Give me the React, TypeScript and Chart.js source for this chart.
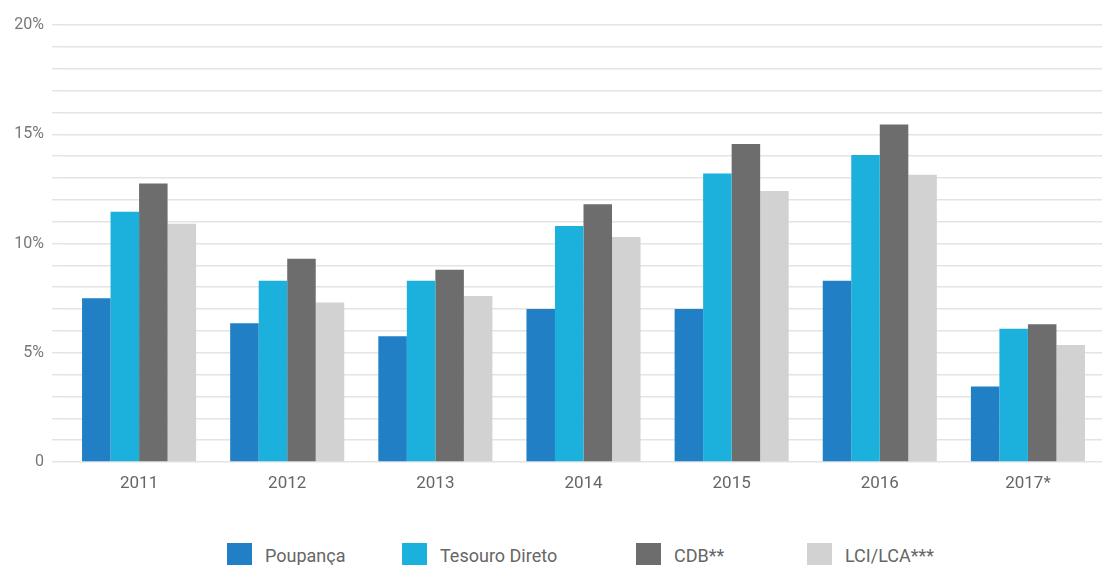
import { Chart, registerables, type ChartConfiguration } from "chart.js";
import { useEffect, useRef } from "react";

Chart.register(...registerables);

const years = ["2011", "2012", "2013", "2014", "2015", "2016", "2017*"];
const seriesNames = ["Poupança", "Tesouro Direto", "CDB**", "LCI/LCA***"];
const poupanca = [7.5, 6.35, 5.75, 7.0, 7.0, 8.3, 3.45];
const tesouroDireto = [11.45, 8.3, 8.3, 10.8, 13.2, 14.05, 6.1];
const cdb = [12.75, 9.3, 8.8, 11.8, 14.55, 15.45, 6.3];
const lciLca = [10.9, 7.3, 7.6, 10.3, 12.4, 13.15, 5.35];
const yTickLabels: Record<number, string> = { 0: "0", 5: "5%", 10: "10%", 15: "15%", 20: "20%" };

const COLORS = ["#2180c5", "#1cb0dd", "#6d6d6d", "#d2d2d2"];
// legend items are not evenly spaced in the original
const LEGEND_ITEM_WIDTHS = [175, 234, 171, 150];
const FONT = "Roboto, 'Noto Sans', sans-serif";

export default function App() {
  const canvasRef = useRef<HTMLCanvasElement | null>(null);

  useEffect(() => {
    const canvas = canvasRef.current;
    if (!canvas) {
      return;
    }
    const chart = new Chart(canvas, chartConfig());
    return () => chart.destroy();
  }, []);

  return (
    <div
      style={{
        position: "fixed",
        left: 0,
        top: 0,
        width: 1103,
        height: 565,
        overflow: "hidden",
        background: "#ffffff"
      }}
    >
      <div style={{ position: "absolute", left: 0, top: 0, width: 1103, height: 507 }}>
        <canvas ref={canvasRef} />
      </div>
      <div
        style={{
          position: "absolute",
          left: 227,
          top: 543,
          display: "flex",
          fontFamily: FONT,
          fontSize: 18,
          color: "#666666",
          whiteSpace: "nowrap"
        }}
      >
        {seriesNames.map((name, i) => (
          <div
            key={name}
            style={{ display: "flex", alignItems: "center", gap: 13, width: LEGEND_ITEM_WIDTHS[i] }}
          >
            <span style={{ width: 25, height: 24, background: COLORS[i], display: "inline-block" }} />
            <span>{name}</span>
          </div>
        ))}
      </div>
    </div>
  );
}

function dataset(label: string, data: number[], color: string) {
  return {
    label,
    data,
    backgroundColor: color,
    borderWidth: 0,
    categoryPercentage: 0.77,
    barPercentage: 1
  };
}

function chartConfig(): ChartConfiguration<"bar"> {
  return {
    type: "bar",
    data: {
      labels: years,
      datasets: [
        dataset(seriesNames[0], poupanca, COLORS[0]),
        dataset(seriesNames[1], tesouroDireto, COLORS[1]),
        dataset(seriesNames[2], cdb, COLORS[2]),
        dataset(seriesNames[3], lciLca, COLORS[3])
      ]
    },
    options: {
      animation: false,
      responsive: true,
      maintainAspectRatio: false,
      layout: {
        padding: { top: 25, right: 1, left: 0, bottom: 0 }
      },
      plugins: {
        tooltip: { enabled: false },
        legend: { display: false }
      },
      scales: {
        x: {
          grid: { display: false },
          border: { display: false },
          afterFit(scale) {
            scale.height = 45;
          },
          ticks: {
            color: "#666666",
            padding: 4,
            font: { family: FONT, size: 17 }
          }
        },
        y: {
          min: 0,
          max: 20,
          afterFit(scale) {
            scale.width = 65;
          },
          border: { display: false },
          grid: {
            color: "#e4e4e4",
            lineWidth: 1.5,
            tickLength: 13
          },
          ticks: {
            stepSize: 1,
            autoSkip: false,
            padding: 8,
            color: "#777777",
            font: { family: FONT, size: 16 },
            callback(value) {
              return yTickLabels[Number(value)] ?? "";
            }
          }
        }
      }
    }
  };
}
